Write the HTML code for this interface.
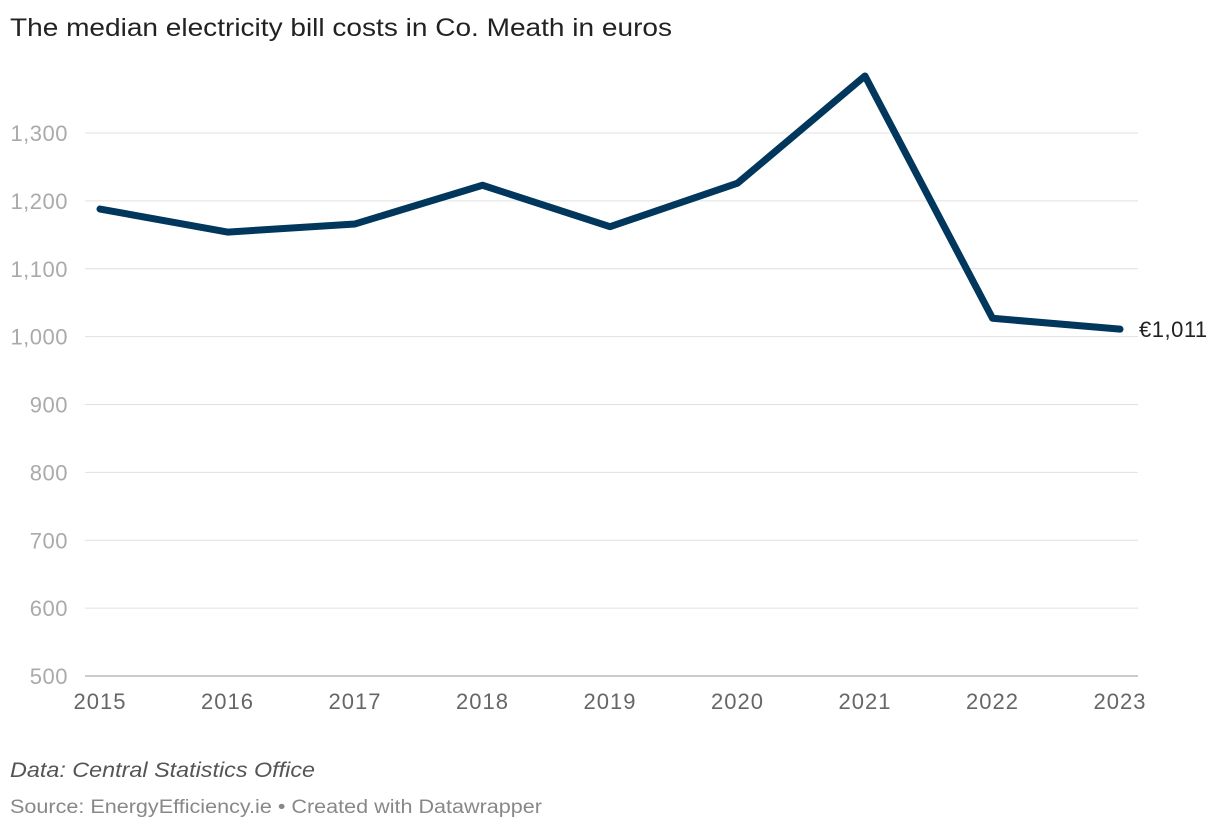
<!DOCTYPE html>
<html><head><meta charset="utf-8"><style>
body{margin:0;background:#fff;font-family:"Liberation Sans",sans-serif;}
svg text{font-family:"Liberation Sans",sans-serif;}
</style></head><body>
<svg id="chart" width="1220" height="830" xmlns="http://www.w3.org/2000/svg">
<text x="10" y="36" font-size="25" fill="#222" textLength="662" lengthAdjust="spacingAndGlyphs">The median electricity bill costs in Co. Meath in euros</text>
<g id="grid"></g><g id="xaxis"></g>
<path id="line" fill="none" stroke="#01375c" stroke-width="7" stroke-linejoin="round" stroke-linecap="round"/>
<text id="endlabel" font-size="22" fill="#222" letter-spacing="0.5"></text>
<text x="10" y="777" font-size="21" font-style="italic" fill="#555" textLength="305" lengthAdjust="spacingAndGlyphs">Data: Central Statistics Office</text>
<text x="10" y="813" font-size="19" fill="#888" textLength="532" lengthAdjust="spacingAndGlyphs">Source: EnergyEfficiency.ie • Created with Datawrapper</text>
</svg>
<script>
const years=["2015","2016","2017","2018","2019","2020","2021","2022","2023"];
const values=[1188,1154,1166,1223,1162,1226,1384,1027,1011];
const yTicks=[500,600,700,800,900,1000,1100,1200,1300];
const ns="http://www.w3.org/2000/svg";
const x=i=>100+i*127.5;
const y=v=>676-(v-500)*0.67875;
const grid=document.getElementById('grid'),xa=document.getElementById('xaxis');
yTicks.forEach(t=>{
 const l=document.createElementNS(ns,'line');
 
 
 l.setAttribute('x1',85);l.setAttribute('x2',1138);l.setAttribute('y1',y(t));l.setAttribute('y2',y(t));
 l.setAttribute('stroke',t===500?'#999':'#e0e0e0');l.setAttribute('stroke-width',1);
 grid.appendChild(l);
 const tx=document.createElementNS(ns,'text');
 
 
 tx.setAttribute('x',68);tx.setAttribute('y',y(t)+8);tx.setAttribute('text-anchor','end');
 tx.setAttribute('font-size',22);tx.setAttribute('fill','#aaa');tx.setAttribute('letter-spacing','0.5');
 tx.textContent=t.toLocaleString('en-US');grid.appendChild(tx);
});
years.forEach((yr,i)=>{
 const tx=document.createElementNS(ns,'text');
 
 
 tx.setAttribute('x',x(i));tx.setAttribute('y',709);tx.setAttribute('text-anchor','middle');
 tx.setAttribute('font-size',22);tx.setAttribute('fill','#666');tx.setAttribute('letter-spacing','1');
 tx.textContent=yr;xa.appendChild(tx);
});
document.getElementById('line').setAttribute('d',values.map((v,i)=>(i?'L':'M')+x(i)+','+y(v)).join(''));
const el=document.getElementById('endlabel'),n=values.length-1;
el.setAttribute('x',x(n)+19);el.setAttribute('y',y(values[n])+8);
el.textContent='€'+values[n].toLocaleString('en-US');
</script>
</body></html>
